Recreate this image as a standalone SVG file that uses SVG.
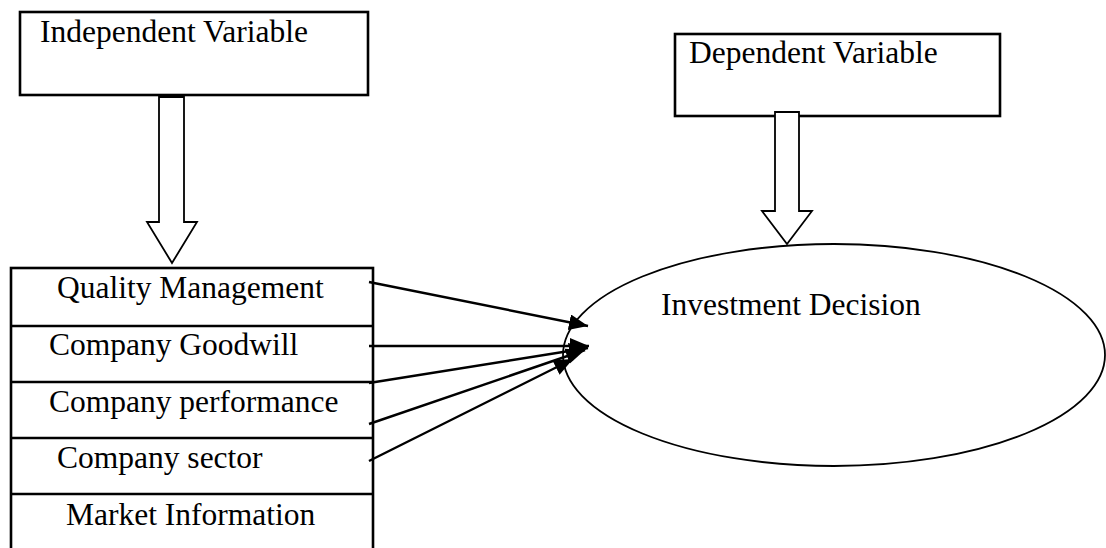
<svg xmlns="http://www.w3.org/2000/svg" width="1106" height="548" viewBox="0 0 1106 548">
<style>
.box{fill:#fff;stroke:#000;stroke-width:2.6}
.txt{font-family:"Liberation Serif","Times New Roman",serif;font-size:31.5px;fill:#000}
.hollow{fill:#fff;stroke:#000;stroke-width:1.8;stroke-linejoin:miter}
.conn{stroke:#000;stroke-width:2.4;fill:none}
.sep{stroke:#000;stroke-width:2.6}
</style>
<defs>
<marker id="ah" markerUnits="userSpaceOnUse" markerWidth="22" markerHeight="18" refX="19" refY="8" orient="auto">
<path d="M0,0 L19,8 L0,16 z" fill="#000"/>
</marker>
</defs>
<g id="independent">
<rect class="box" x="20" y="12" width="348" height="83"/>
<text class="txt" x="40" y="42">Independent Variable</text>
</g>
<g id="dependent">
<rect class="box" x="675" y="34" width="325" height="82"/>
<text class="txt" x="689" y="63">Dependent Variable</text>
</g>
<g id="arrow-independent">
<path class="hollow" d="M159,97 L184,97 L184,222 L197,222 L172,263 L147,222 L159,222 Z"/>
</g>
<g id="arrow-dependent">
<path class="hollow" d="M775,112 L799,112 L799,211 L812,211 L787,244 L762,211 L775,211 Z"/>
</g>
<g id="factors">
<rect class="box" x="11" y="268" width="362" height="300"/>
<line class="sep" x1="11" y1="326" x2="373" y2="326"/>
<line class="sep" x1="11" y1="382" x2="373" y2="382"/>
<line class="sep" x1="11" y1="438" x2="373" y2="438"/>
<line class="sep" x1="11" y1="494" x2="373" y2="494"/>
<text class="txt" x="57" y="298">Quality Management</text>
<text class="txt" x="49" y="355">Company Goodwill</text>
<text class="txt" x="49" y="412">Company performance</text>
<text class="txt" x="57" y="468">Company sector</text>
<text class="txt" x="66" y="525">Market Information</text>
</g>
<g id="investment-decision">
<ellipse cx="834" cy="355" rx="271" ry="111" fill="none" stroke="#000" stroke-width="1.8"/>
<text class="txt" x="661" y="315">Investment Decision</text>
</g>
<g id="connectors">
<line class="conn" x1="369" y1="282" x2="588" y2="326" marker-end="url(#ah)"/>
<line class="conn" x1="369" y1="346" x2="589" y2="346" marker-end="url(#ah)"/>
<line class="conn" x1="369" y1="383" x2="588" y2="348" marker-end="url(#ah)"/>
<line class="conn" x1="369" y1="424" x2="585" y2="350" marker-end="url(#ah)"/>
<line class="conn" x1="369" y1="461" x2="573" y2="359" marker-end="url(#ah)"/>
</g>
</svg>
